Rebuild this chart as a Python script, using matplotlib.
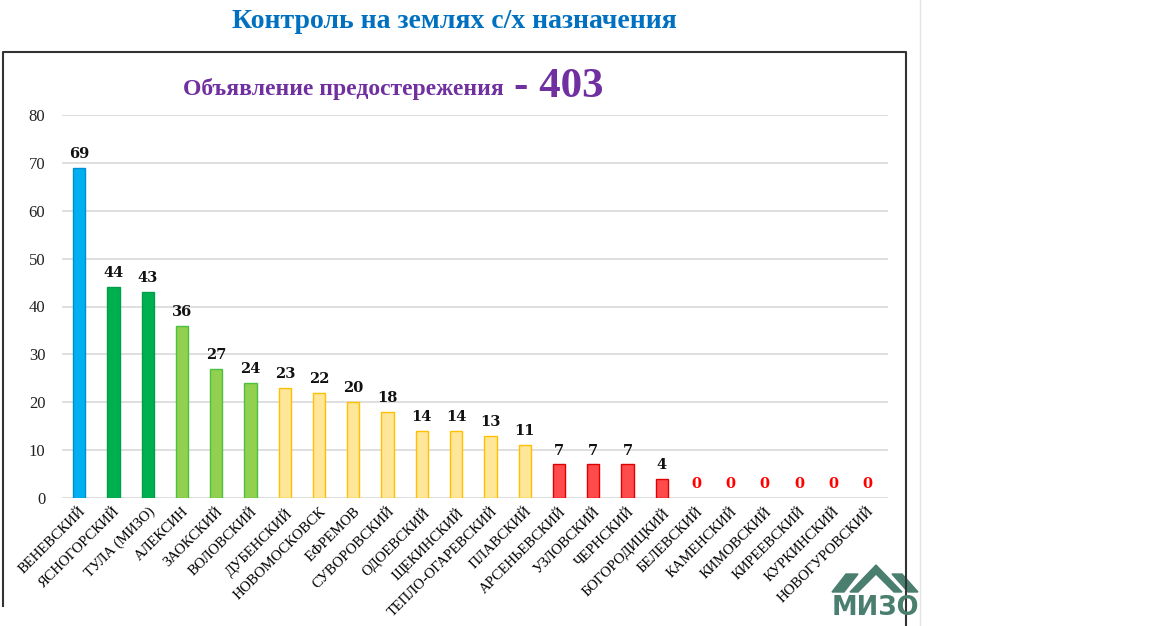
import matplotlib
matplotlib.use('Agg')
import numpy as np
import matplotlib.pyplot as plt
from matplotlib.lines import Line2D
from matplotlib.patches import Polygon

# данные
districts = ['ВЕНЕВСКИЙ', 'ЯСНОГОРСКИЙ', 'ТУЛА (МИЗО)', 'АЛЕКСИН', 'ЗАОКСКИЙ',
             'ВОЛОВСКИЙ', 'ДУБЕНСКИЙ', 'НОВОМОСКОВСК', 'ЕФРЕМОВ', 'СУВОРОВСКИЙ',
             'ОДОЕВСКИЙ', 'ЩЕКИНСКИЙ', 'ТЕПЛО-ОГАРЕВСКИЙ', 'ПЛАВСКИЙ',
             'АРСЕНЬЕВСКИЙ', 'УЗЛОВСКИЙ', 'ЧЕРНСКИЙ', 'БОГОРОДИЦКИЙ', 'БЕЛЕВСКИЙ',
             'КАМЕНСКИЙ', 'КИМОВСКИЙ', 'КИРЕЕВСКИЙ', 'КУРКИНСКИЙ', 'НОВОГУРОВСКИЙ']
warnings = [69, 44, 43, 36, 27, 24, 23, 22, 20, 18, 14, 14, 13, 11,
            7, 7, 7, 4, 0, 0, 0, 0, 0, 0]
groups = [0, 1, 1, 2, 2, 2, 3, 3, 3, 3, 3, 3, 3, 3, 4, 4, 4, 4, 5, 5, 5, 5, 5, 5]
total = sum(warnings)

face = ['#00B0F0', '#00B050', '#92D050', '#FFE699', '#FF4B4B', 'none']
edge = ['#0090D0', '#00A048', '#4CC040', '#FFC000', '#E00000', 'none']

W, H = 1176, 626
fig = plt.figure(figsize=(W / 100, H / 100), dpi=100)
fig.patch.set_facecolor('white')

def fx(px):
    return px / W

def fy(py):
    return 1 - py / H

ax = fig.add_axes([fx(62), fy(498), fx(888) - fx(62), fy(115) - fy(498)])
x = np.arange(len(districts))
ax.bar(x, warnings, width=0.36,
       color=[face[g] for g in groups],
       edgecolor=[edge[g] for g in groups], linewidth=1.0, zorder=3)

for xi, v in zip(x, warnings):
    ax.annotate(str(v), (xi, v), xytext=(0, 5), textcoords='offset points',
                ha='center', va='bottom', fontsize=10.5, fontweight='bold',
                family='DejaVu Serif', color='#FF0000' if v == 0 else '#111111')

ax.set_xlim(-0.5, 23.6)
ax.set_ylim(0, 80)
ax.set_yticks(range(0, 81, 10))
ax.yaxis.grid(True, color='#D9D9D9', linewidth=1.2, zorder=0)
ax.set_axisbelow(True)
for s in ax.spines.values():
    s.set_visible(False)
ax.tick_params(axis='both', length=0)
ax.tick_params(axis='y', pad=12, labelsize=12, labelcolor='#222222')
ax.set_xticks(x)
ax.set_xticklabels(districts, rotation=45, ha='right', rotation_mode='anchor',
                   fontsize=10.5, family='Liberation Serif')
ax.tick_params(axis='x', pad=5)
for lab in ax.get_yticklabels():
    lab.set_family('Liberation Serif')

# заголовки
fig.text(fx(454), fy(21), 'Контроль на землях с/х назначения', ha='center', va='center',
         fontsize=20, fontweight='bold', family='Liberation Serif', color='#0070C0')
fig.text(fx(504), fy(89), 'Объявление предостережения', ha='right', va='center',
         fontsize=17, fontweight='bold', family='Liberation Serif', color='#7030A0')
fig.text(fx(514), fy(87), '- %d' % total, ha='left', va='center',
         fontsize=31, fontweight='bold', family='Liberation Serif', color='#7030A0')

# рамка
fig.add_artist(Line2D([fx(3), fx(3), fx(906), fx(906)], [fy(606), fy(52), fy(52), fy(626)],
                      color='#333333', linewidth=1.5))
fig.add_artist(Line2D([fx(920), fx(920)], [0, 1], color='#E4E4E4', linewidth=1))

# логотип
logo = '#4A7E6E'
fig.add_artist(Polygon([(fx(832), fy(592)), (fx(846), fy(574)), (fx(858), fy(574)),
                        (fx(844), fy(592))], closed=True, color=logo))
fig.add_artist(Polygon([(fx(850), fy(592)), (fx(876), fy(565)), (fx(902), fy(592)),
                        (fx(894), fy(592)), (fx(876), fy(574)), (fx(858), fy(592))],
                       closed=True, color=logo))
fig.add_artist(Polygon([(fx(892), fy(574)), (fx(902), fy(574)), (fx(918), fy(592)),
                        (fx(908), fy(592))], closed=True, color=logo))
fig.text(fx(875), fy(608), 'МИЗО', ha='center', va='center', fontsize=18.5,
         fontweight='bold', family='DejaVu Sans', color=logo)

plt.savefig('out.png', dpi=100, facecolor='white')
plt.close()
